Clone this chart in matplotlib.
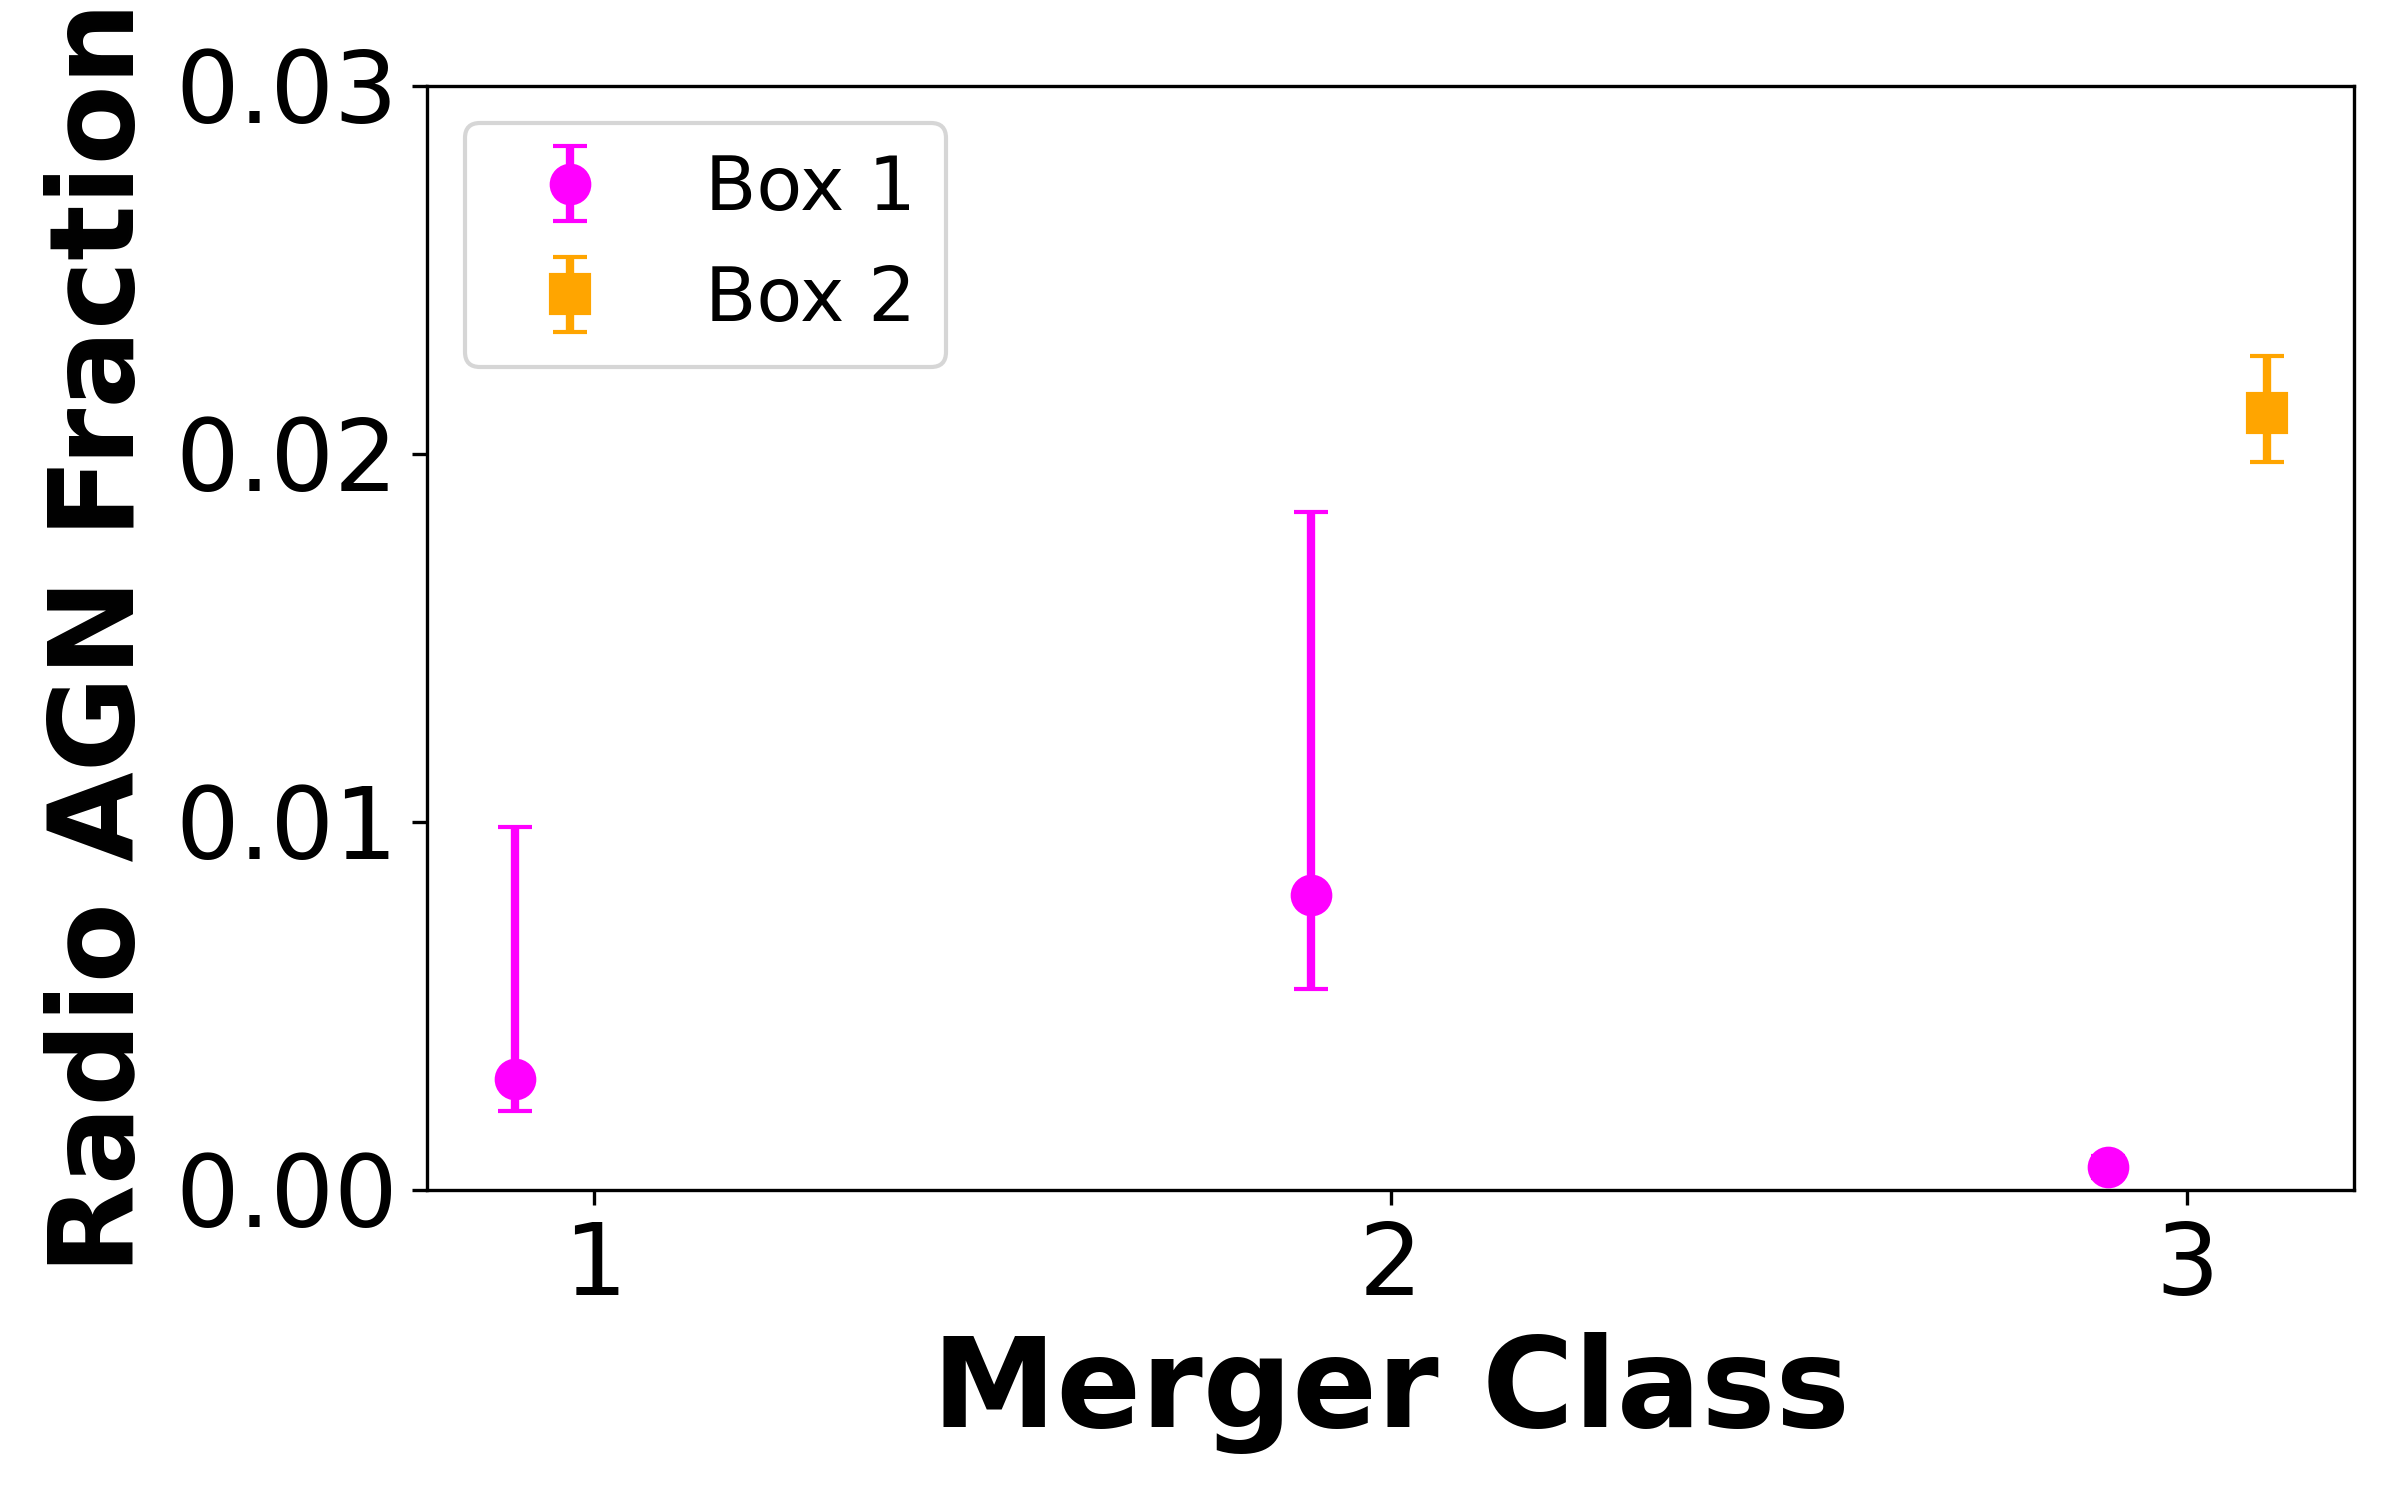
import matplotlib
matplotlib.use("Agg")
import matplotlib.pyplot as plt
import numpy as np

# Data
box1_classes = [1, 2, 3]
box1_frac = [0.00301, 0.00799, 0.00060]
box1_err_low = [0.00088, 0.00253, 0.00030]
box1_err_high = [0.00685, 0.01042, 0.00030]

box2_classes = [3]
box2_frac = [0.0211]
box2_err_low = [0.00132]
box2_err_high = [0.00155]

xticks = [1, 2, 3]
yticks = [0.00, 0.01, 0.02, 0.03]
ytick_labels = ["0.00", "0.01", "0.02", "0.03"]

fig = plt.figure(figsize=(8, 5), dpi=300)
ax = fig.add_axes([0.178, 0.207, 0.803, 0.736])

offset = 0.1
ax.errorbar(np.array(box1_classes) - offset, box1_frac,
            yerr=[box1_err_low, box1_err_high],
            fmt='o', color='#ff00ff', ms=9, elinewidth=2, capsize=4,
            capthick=1, label='Box 1')
ax.errorbar(np.array(box2_classes) + offset, box2_frac,
            yerr=[box2_err_low, box2_err_high],
            fmt='s', color='#ffa500', ms=9, elinewidth=2, capsize=4,
            capthick=1, label='Box 2')

ax.set_ylim(0, 0.03)
ax.set_xlim(0.79, 3.21)
ax.set_xticks(xticks)
ax.set_yticks(yticks)
ax.set_yticklabels(ytick_labels)
ax.tick_params(labelsize=24)

ax.set_xlabel('Merger Class', fontsize=30, fontweight='bold')
ax.set_ylabel('Radio AGN Fraction', fontsize=28, fontweight='bold')

ax.legend(loc='upper left', fontsize=18)

fig.savefig('out.png', dpi=300)
